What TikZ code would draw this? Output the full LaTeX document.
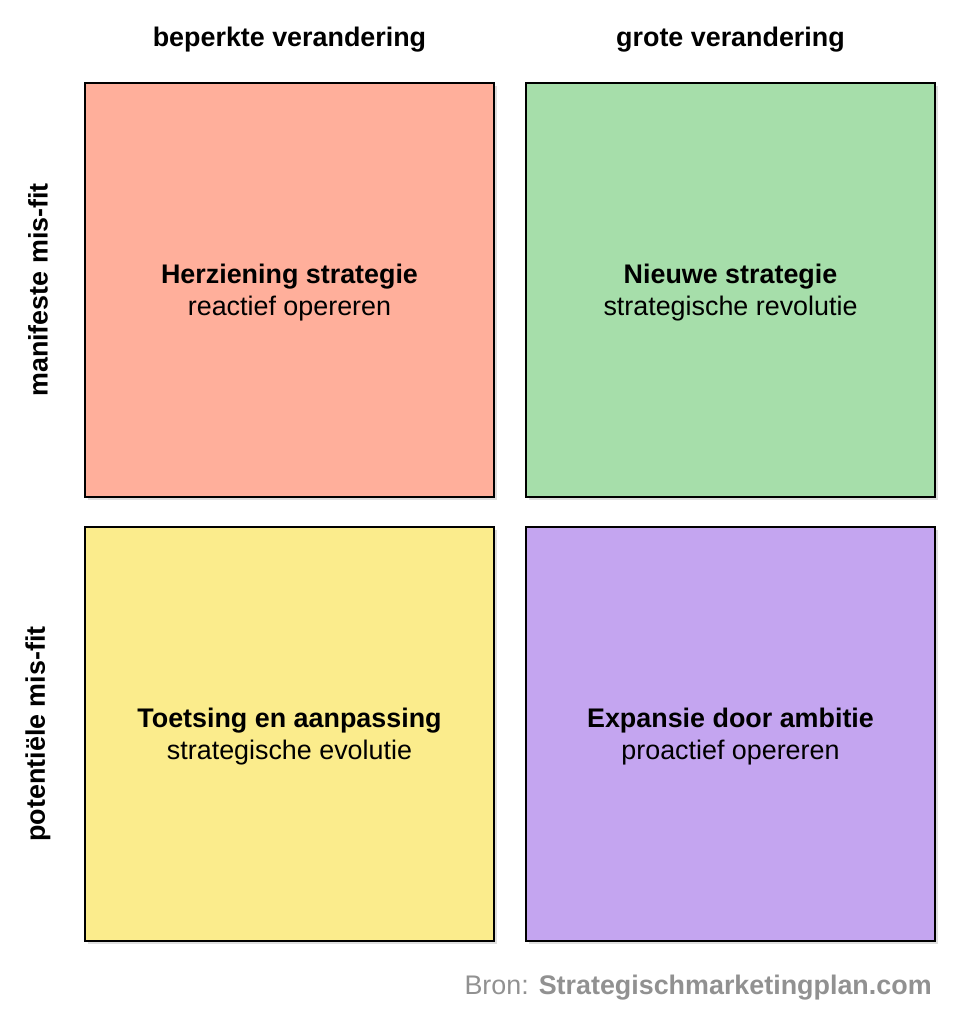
\documentclass[tikz,border=0pt]{standalone}
\usepackage{fontspec}
\setmainfont{Liberation Sans}
\usepackage{tikz}
\usetikzlibrary{shapes, shadows, positioning}
\definecolor{redbox}{RGB}{255,175,155}
\definecolor{greenbox}{RGB}{166,222,170}
\definecolor{yellowbox}{RGB}{251,236,140}
\definecolor{purplebox}{RGB}{196,165,240}
\definecolor{sourcegray}{RGB}{145,145,145}
\tikzstyle{quadrant}=[draw, line width=1.2pt, minimum width=8.18cm, minimum height=8.28cm,
  drop shadow={opacity=0.25, shadow xshift=1.5pt, shadow yshift=-1.5pt}]
\tikzstyle{boxtext}=[align=center, font=\fontsize{15.3}{18.6}\selectfont, yshift=-0.05cm]
\tikzstyle{heading}=[font=\fontsize{15.3}{18.1}\selectfont\bfseries, inner sep=0pt]
\tikzstyle{source}=[font=\fontsize{15.3}{18.1}\selectfont, text=sourcegray, inner sep=0pt]

\begin{document}
\begin{tikzpicture}[x=0.02cm, y=0.02cm]
      \useasboundingbox (0,0) rectangle (970,1024);

      \node[quadrant, fill=redbox, label={[boxtext]center:\textbf{Herziening strategie}\\reactief opereren}] (herziening) at (289.5,734) {};
      \node[quadrant, fill=greenbox, label={[boxtext]center:\textbf{Nieuwe strategie}\\strategische revolutie}] (nieuwe) at (730.5,734) {};
      \node[quadrant, fill=yellowbox, label={[boxtext]center:\textbf{Toetsing en aanpassing}\\strategische evolutie}] (toetsing) at (289.5,290) {};
      \node[quadrant, fill=purplebox, label={[boxtext]center:\textbf{Expansie door ambitie}\\proactief opereren}] (expansie) at (730.5,290) {};

      \node[heading] (beperkt) at (289.5,984) {beperkte verandering};
      \node[heading] (groot) at (730.5,984) {grote verandering};
      \node[heading, rotate=90] (manifest) at (38,734) {manifeste mis-fit};
      \node[heading, rotate=90] (potentieel) at (38,290) {potentiële mis-fit};

      \node[source, anchor=east] (bron) at (932,36) {Bron: \textbf{Strategischmarketingplan.com}};

    \end{tikzpicture}
\end{document}
